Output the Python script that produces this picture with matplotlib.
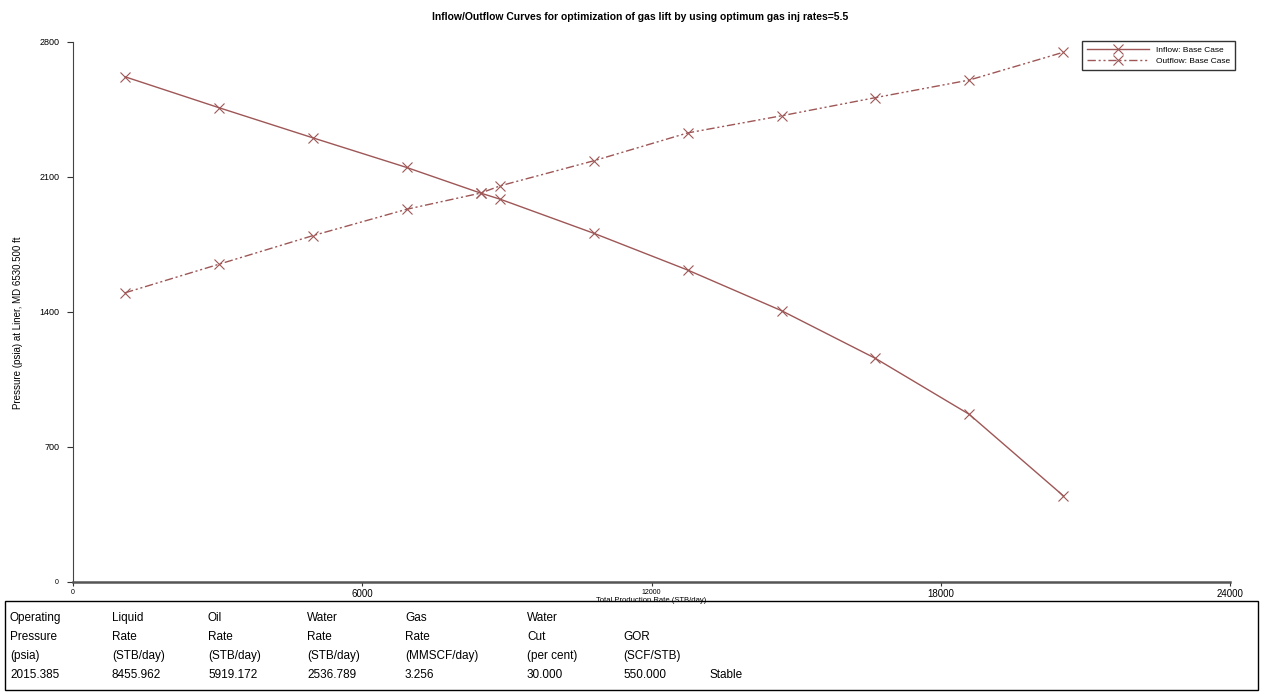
import matplotlib.pyplot as plt
from matplotlib.patches import Rectangle

# Inflow (IPR) and outflow (VLP) curves, rate in STB/day, pressure in psia
rate = [1080, 3025, 4970, 6920, 8456, 8865, 10810, 12750, 14700, 16645, 18590, 20540]
inflow_p = [2618, 2458, 2302, 2148, 2015, 1983, 1806, 1616, 1405, 1158, 868, 446]
outflow_p = [1498, 1646, 1794, 1931, 2015, 2053, 2183, 2327, 2416, 2510, 2601, 2745]

x_ticks = [0, 6000, 12000, 18000, 24000]
y_ticks = [0, 700, 1400, 2100, 2800]

# Operating point summary table
table_cols = [
    ["Operating", "Pressure", "(psia)", "2015.385"],
    ["Liquid", "Rate", "(STB/day)", "8455.962"],
    ["Oil", "Rate", "(STB/day)", "5919.172"],
    ["Water", "Rate", "(STB/day)", "2536.789"],
    ["Gas", "Rate", "(MMSCF/day)", "3.256"],
    ["Water", "Cut", "(per cent)", "30.000"],
    ["", "GOR", "(SCF/STB)", "550.000"],
    ["", "", "", "Stable"],
]

W, H = 1264, 693
plt.rcParams['font.family'] = ['Liberation Sans Narrow', 'Liberation Sans', 'DejaVu Sans']

fig = plt.figure(figsize=(W / 100, H / 100), dpi=100)
ax = fig.add_axes([73 / W, 1 - 581.7 / H, (1230 - 73) / W, (581.7 - 41.7) / H])

col = '#9e5656'
ax.plot(rate, inflow_p, color=col, lw=1.0, marker='x', ms=7, mew=0.8,
        label='Inflow: Base Case')
ax.plot(rate, outflow_p, color=col, lw=1.0, ls=(0, (6, 2, 1.5, 2, 1.5, 2)),
        marker='x', ms=7, mew=0.8, label='Outflow: Base Case')

ax.set_xlim(0, 24000)
ax.set_ylim(0, 2800)
ax.set_xticks(x_ticks)
ax.set_yticks(y_ticks)
ax.set_xticklabels([str(t) for t in x_ticks])
ax.set_yticklabels([str(t) for t in y_ticks])
ax.tick_params(axis='y', length=4, pad=6, labelsize=6.5, color='#333333')
ax.tick_params(axis='x', length=3, pad=2, labelsize=7, color='#333333')
for lbl, t in zip(ax.get_xticklabels(), x_ticks):
    if t in (0, 12000):
        lbl.set_fontsize(5)
ax.get_yticklabels()[0].set_fontsize(5)

ax.spines['top'].set_visible(False)
ax.spines['right'].set_visible(False)
ax.spines['left'].set_color('#444444')
ax.spines['bottom'].set_color('#555555')
ax.spines['bottom'].set_linewidth(1.8)

ax.set_xlabel('Total Production Rate (STB/day)', fontsize=5.5, labelpad=-1)
ax.set_ylabel('Pressure (psia) at Liner, MD 6530.500 ft', fontsize=7)
ax.yaxis.set_label_coords(-50 / (1230 - 73), 0.48)

fig.text(640 / W, 1 - 17 / H,
         'Inflow/Outflow Curves for optimization of gas lift by using optimum gas inj rates=5.5',
         ha='center', va='center', fontsize=7.5, fontweight='bold')

leg = ax.legend(loc='upper right', bbox_to_anchor=(1235 / W, 1 - 41 / H),
                bbox_transform=fig.transFigure, fontsize=6, handlelength=7.5,
                frameon=True, fancybox=False, borderpad=0.6, labelspacing=0.45,
                handletextpad=0.8, borderaxespad=0)
leg.get_frame().set_edgecolor('black')
leg.get_frame().set_linewidth(1.0)

# summary box under the chart
fig.patches.append(Rectangle((5 / W, 1 - 690 / H), (1258 - 5) / W, (690 - 601) / H,
                             transform=fig.transFigure, fill=False,
                             edgecolor='black', lw=1.0))
col_x = [10, 112, 208, 307, 405, 527, 623, 710]
row_y = [618, 637, 656, 675]
for cx, cells in zip(col_x, table_cols):
    for ry, txt in zip(row_y, cells):
        if txt:
            fig.text(cx / W, 1 - ry / H, txt, ha='left', va='center',
                     fontsize=8.5, family=['Liberation Sans', 'DejaVu Sans'])

fig.savefig('out.png', dpi=100)
